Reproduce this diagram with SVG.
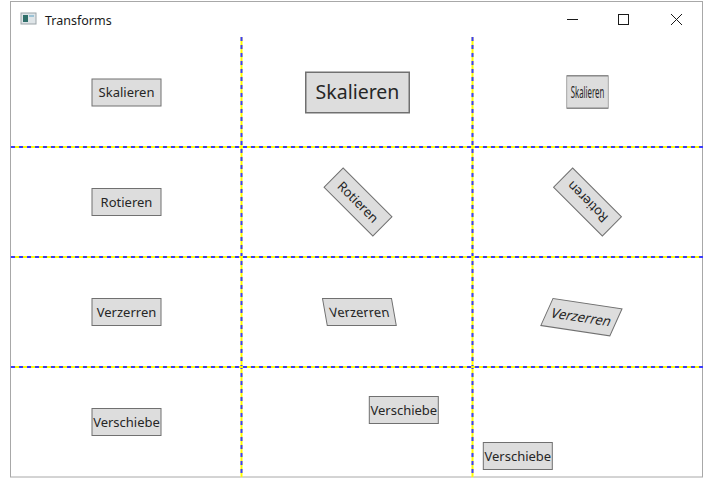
<svg xmlns="http://www.w3.org/2000/svg" width="722" height="485" viewBox="0 0 722 485">
<style>
.btn{fill:#dddddd;stroke:#707070;stroke-width:1}
.lbl{font-family:"Noto Sans","Open Sans","DejaVu Sans",sans-serif;font-size:13px;fill:#262626;text-anchor:middle}
.gy{stroke:#ffff00;stroke-width:2;fill:none}
.gb{stroke:#3a3aff;stroke-width:2;stroke-dasharray:4 4;fill:none}
.ctl{stroke:#1a1a1a;stroke-width:1;fill:none}
</style>
<rect x="0" y="0" width="722" height="485" fill="#ffffff"/>
<g id="window">
<rect x="10.5" y="1.5" width="692" height="475.5" fill="#ffffff" stroke="#a8a8a8" stroke-width="1"/>
<g id="icon">
<rect x="21" y="13" width="15" height="11" fill="#dfe5e8" stroke="#9aa3a8" stroke-width="1"/>
<rect x="23" y="15" width="5" height="7" fill="#2f6f6a"/>
<rect x="29" y="15" width="5" height="2" fill="#9cc3d6"/>
</g>
<text x="45" y="24.5" font-family="Noto Sans, Open Sans, sans-serif" font-size="12.5" fill="#1a1a1a">Transforms</text>
<g id="controls">
<line class="ctl" x1="567" y1="19.5" x2="578" y2="19.5"/>
<rect class="ctl" x="618.5" y="14.5" width="10" height="10"/>
<line class="ctl" x1="671" y1="14" x2="682" y2="25"/>
<line class="ctl" x1="682" y1="14" x2="671" y2="25"/>
</g>
</g>
<g id="grid">
<line class="gy" x1="241.5" y1="37" x2="241.5" y2="477"/>
<line class="gb" x1="241.5" y1="37" x2="241.5" y2="477"/>
<line class="gy" x1="472.5" y1="37" x2="472.5" y2="477"/>
<line class="gb" x1="472.5" y1="37" x2="472.5" y2="477"/>
<line class="gy" x1="11" y1="147" x2="703" y2="147"/>
<line class="gb" x1="11" y1="147" x2="703" y2="147"/>
<line class="gy" x1="11" y1="257" x2="703" y2="257"/>
<line class="gb" x1="11" y1="257" x2="703" y2="257"/>
<line class="gy" x1="11" y1="367" x2="703" y2="367"/>
<line class="gb" x1="11" y1="367" x2="703" y2="367"/>
</g>
<g id="skalieren-1" transform="translate(126.5,92.5)"><rect class="btn" x="-34.5" y="-13.5" width="69" height="27"/><text class="lbl" y="4.6">Skalieren</text></g>
<g id="skalieren-2" transform="translate(357.5,92.5) scale(1.5)"><rect class="btn" x="-34.5" y="-13.5" width="69" height="27" stroke-width="0.7"/><text class="lbl" y="4.6">Skalieren</text></g>
<g id="skalieren-3" transform="translate(587.5,92) scale(0.6,1.2)"><rect class="btn" x="-34.5" y="-13.5" width="69" height="27"/><text class="lbl" y="4.6">Skalieren</text></g>
<g id="rotieren-1" transform="translate(126.5,202)"><rect class="btn" x="-34.5" y="-13.5" width="69" height="27"/><text class="lbl" y="4.6">Rotieren</text></g>
<g id="rotieren-2" transform="translate(358,202) rotate(45)"><rect class="btn" x="-34.5" y="-13.5" width="69" height="27"/><text class="lbl" y="4.6">Rotieren</text></g>
<g id="rotieren-3" transform="translate(587.5,202) rotate(225)"><rect class="btn" x="-34.5" y="-13.5" width="69" height="27"/><text class="lbl" y="4.6">Rotieren</text></g>
<g id="verzerren-1" transform="translate(126.5,312)"><rect class="btn" x="-34.5" y="-13.5" width="69" height="27"/><text class="lbl" y="4.6">Verzerren</text></g>
<g id="verzerren-2" transform="translate(322.5,298.5) skewX(10)"><rect class="btn" x="0" y="0" width="69" height="27"/><text class="lbl" x="34.5" y="18.1">Verzerren</text></g>
<g id="verzerren-3" transform="translate(553,298.5) matrix(1,0.15,-0.45,1,0,0)"><rect class="btn" x="0" y="0" width="69" height="27"/><text class="lbl" x="34.5" y="18.1">Verzerren</text></g>
<g id="verschiebe-1" transform="translate(126.5,422)"><rect class="btn" x="-34.5" y="-13.5" width="69" height="27"/><text class="lbl" y="4.6">Verschiebe</text></g>
<g id="verschiebe-2" transform="translate(403.8,410)"><rect class="btn" x="-34.5" y="-13.5" width="69" height="27"/><text class="lbl" y="4.6">Verschiebe</text></g>
<g id="verschiebe-3" transform="translate(517.8,456)"><rect class="btn" x="-34.5" y="-13.5" width="69" height="27"/><text class="lbl" y="4.6">Verschiebe</text></g>
</svg>
